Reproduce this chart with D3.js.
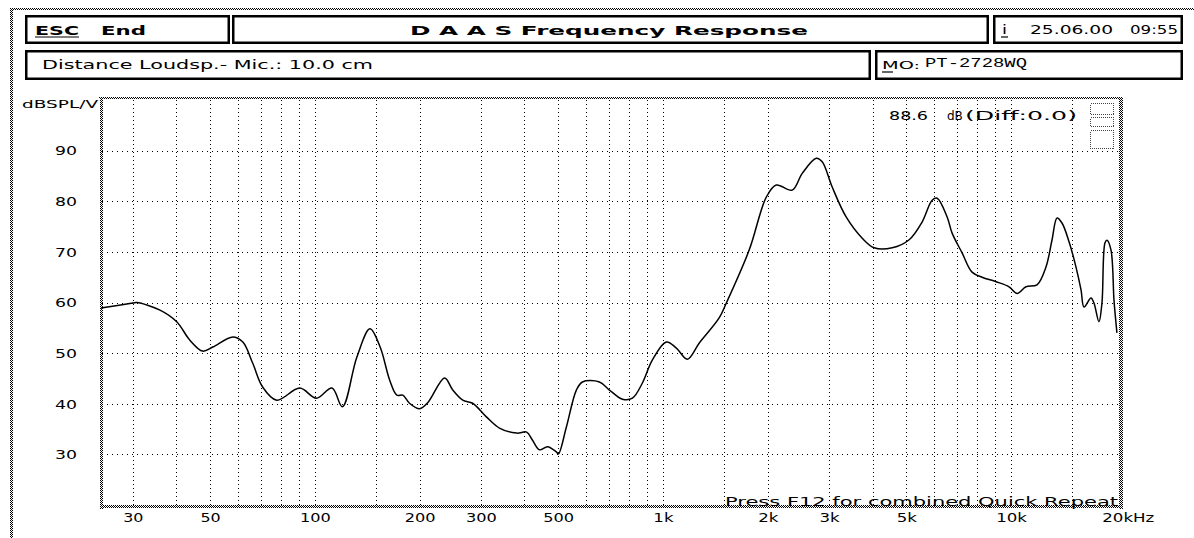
<!DOCTYPE html>
<html>
<head>
<meta charset="utf-8">
<script src="https://cdn.jsdelivr.net/npm/d3@7"></script>
<style>
  html, body { margin: 0; padding: 0; background: #fff; }
  svg { display: block; }
</style>
</head>
<body>
<svg id="chart" width="1194" height="538"></svg>
<script>
// Mesura (llegida de la imatge)
const freqs = [24.3, 30, 30.8, 35.9, 40.1, 43.7, 47.6, 50.9, 58.1, 62.1, 66.3, 70.8, 77.7, 90.5,
  101, 112, 120, 132, 144, 154, 164, 172, 179, 187, 200, 211, 236, 249, 266, 284, 311, 339,
  380, 406, 422, 442, 466, 494, 501, 528, 564, 587, 657, 702, 765, 817, 873, 932, 1023, 1093,
  1175, 1272, 1452, 1521, 1770, 1981, 2116, 2352, 2513, 2757, 2868, 3064, 3360, 3737, 4045,
  4557, 5098, 5553, 5934, 6134, 6553, 6773, 7235, 7728, 8258, 9060, 9873, 10410, 11040, 11880,
  12600, 13110, 13560, 14010, 14680, 15370, 15890, 16210, 16970, 17310, 17890, 18250, 18620,
  18870, 19370, 19760, 20020, 20150];
const levels = [58.9, 59.9, 60.0, 58.5, 56.2, 52.6, 50.4, 51.2, 53.2, 52.2, 48.0, 43.3, 40.7, 43.1,
  41.1, 43.1, 39.4, 49.2, 54.8, 51.2, 44.7, 41.7, 41.7, 40.1, 39.0, 40.2, 45.1, 42.7, 40.7, 40.1, 37.4, 35.2,
  34.2, 34.4, 32.8, 30.9, 31.5, 30.5, 30.1, 35.4, 42.7, 44.3, 44.3, 42.7, 40.9, 41.1, 44.1, 48.6, 52.2, 51.0,
  48.8, 52.0, 57.0, 59.9, 70.4, 80.8, 83.2, 82.2, 85.5, 88.5, 87.8, 82.8, 76.9, 72.7, 70.8,
  70.8, 72.4, 75.9, 80.2, 80.6, 76.9, 73.7, 69.8, 66.0, 65.0, 64.1, 63.1, 61.8, 63.1, 63.5,
  67.0, 72.3, 76.7, 75.7, 72.0, 67.0, 62.5, 59.1, 60.9, 59.9, 56.2, 59.9, 71.8,
  72.3, 70.4, 60.5, 56.0, 54.0];

const gridFreqs = [30, 40, 50, 60, 70, 80, 90, 100, 150, 200, 300, 400, 500, 600, 700, 800, 900,
  1000, 1500, 2000, 3000, 4000, 5000, 6000, 7000, 8000, 9000, 10000, 15000];
const gridLevels = [30, 40, 50, 60, 70, 80, 90];
const xTickValues = [30, 50, 100, 200, 300, 500, 1000, 2000, 3000, 5000, 10000, 20000];
const xTickLabels = ["30", "50", "100", "200", "300", "500", "1k", "2k", "3k", "5k", "10k", "20kHz"];

function drawFrequencyResponse() {
    const svg = d3.select("#chart");
    const font = "'DejaVu Sans', sans-serif";

    // Patró de quadrets per a les vores
    const defs = svg.append("defs");
    const pat = defs.append("pattern")
        .attr("id", "chk").attr("width", 2).attr("height", 2)
        .attr("patternUnits", "userSpaceOnUse");
    pat.append("rect").attr("width", 1).attr("height", 1).attr("fill", "#000");
    pat.append("rect").attr("x", 1).attr("y", 1).attr("width", 1).attr("height", 1).attr("fill", "#000");

    // Text estirat com la font de pantalla original
    function label(str, x0, y0, w, opts = {}) {
        const t = svg.append("text")
            .attr("x", x0).attr("y", y0)
            .attr("font-family", opts.family || font)
            .attr("font-size", opts.size || 12)
            .attr("font-weight", opts.bold ? "bold" : "normal")
            .attr("fill", "#000")
            .text(str);
        if (w) t.attr("textLength", w).attr("lengthAdjust", "spacingAndGlyphs");
        return t;
    }
    function underline(x1, x2, y0) {
        svg.append("line").attr("x1", x1).attr("x2", x2).attr("y1", y0).attr("y2", y0)
            .attr("stroke", "#000").attr("stroke-width", 1.2);
    }

    // Vores de la pàgina
    svg.append("rect").attr("x", 10).attr("y", 8).attr("width", 1184).attr("height", 2).attr("fill", "url(#chk)");
    svg.append("rect").attr("x", 10).attr("y", 8).attr("width", 3).attr("height", 530).attr("fill", "url(#chk)");

    // Caixes de capçalera
    const boxes = [
        [25, 15, 230, 44], [232, 15, 989, 44], [993, 15, 1183, 44],
        [25, 50, 871, 80], [875, 50, 1183, 80]
    ];
    boxes.forEach(([x1, y1, x2, y2]) => {
        svg.append("rect")
            .attr("x", x1 + 1.25).attr("y", y1 + 1.25)
            .attr("width", x2 - x1 - 2.5).attr("height", y2 - y1 - 2.5)
            .attr("fill", "none").attr("stroke", "#000").attr("stroke-width", 2.5);
    });

    label("ESC", 35, 35, 44, { bold: true, size: 13 });
    underline(35, 79, 37);
    label("End", 101, 35, 45, { bold: true, size: 13 });
    label("D A A S  Frequency Response", 410, 35, 398, { bold: true, size: 13 });
    label("i", 1002, 34, 5);
    underline(1001, 1008, 37);
    label("25.06.00", 1030, 34, 83);
    label("09:55", 1130, 34, 48);
    label("Distance Loudsp.- Mic.: 10.0 cm", 42, 69, 331);
    label("MO:", 882, 69, 38, { size: 11 });
    underline(882, 893, 72);
    label("PT-2728WQ", 925, 67, 102, { family: "'Liberation Mono', monospace", size: 13 });

    // Escales
    const x = d3.scaleLog().domain([24.3, 20700]).range([101, 1121]);
    const y = d3.scaleLinear().domain([20, 100]).range([505, 100]);

    // Graella vertical
    svg.append("g")
        .attr("transform", "translate(0,505)")
        .call(d3.axisBottom(x).tickValues(gridFreqs).tickSize(-406).tickFormat(""))
        .call(g => g.select(".domain").remove())
        .selectAll("line")
        .attr("stroke", "#000").attr("stroke-dasharray", "1,3")
        .attr("shape-rendering", "crispEdges");

    // Graella horitzontal
    svg.append("g")
        .attr("transform", "translate(102,0)")
        .call(d3.axisRight(y).tickValues(gridLevels).tickSize(1017).tickFormat(""))
        .call(g => g.select(".domain").remove())
        .selectAll("line")
        .attr("stroke", "#000").attr("stroke-dasharray", "1,4")
        .attr("shape-rendering", "crispEdges");

    // Etiquetes eix X
    const xAxis = svg.append("g")
        .attr("transform", "translate(0,505)")
        .call(d3.axisBottom(x).tickValues(xTickValues).tickSize(0).tickPadding(8)
            .tickFormat((d, i) => xTickLabels[i]));
    xAxis.select(".domain").remove();
    xAxis.selectAll("text")
        .attr("font-family", font).attr("font-size", 12).attr("fill", "#000")
        .attr("dy", "0.71em")
        .attr("lengthAdjust", "spacingAndGlyphs")
        .attr("textLength", (d, i) => xTickLabels[i].length * 10.6 - 1)
        .attr("dx", (d, i) => xTickLabels[i].endsWith("Hz") ? 12 : 0);

    // Etiquetes eix Y
    const yAxis = svg.append("g")
        .attr("transform", "translate(101,0)")
        .call(d3.axisLeft(y).tickValues(gridLevels).tickSize(0).tickPadding(24));
    yAxis.select(".domain").remove();
    yAxis.selectAll("text")
        .attr("font-family", font).attr("font-size", 12).attr("fill", "#000")
        .attr("dy", "0.36em")
        .attr("lengthAdjust", "spacingAndGlyphs")
        .attr("textLength", 22);

    label("dBSPL/V", 22, 108, 76, { size: 11 });

    // Corba de resposta
    const line = d3.line()
        .x((d, i) => x(freqs[i]))
        .y(d => y(d))
        .curve(d3.curveCatmullRom.alpha(0.5));
    svg.append("path")
        .datum(levels)
        .attr("d", line)
        .attr("fill", "none")
        .attr("stroke", "#000")
        .attr("stroke-width", 1.5)
        .attr("stroke-linejoin", "round");

    // Vores de l'àrea del gràfic
    svg.append("rect").attr("x", 99).attr("y", 97).attr("width", 1024).attr("height", 2).attr("fill", "url(#chk)");
    svg.append("rect").attr("x", 100).attr("y", 97).attr("width", 3).attr("height", 412).attr("fill", "url(#chk)");
    svg.append("rect").attr("x", 1119).attr("y", 97).attr("width", 4).attr("height", 412).attr("fill", "url(#chk)");
    svg.append("rect").attr("x", 100).attr("y", 505).attr("width", 1023).attr("height", 3).attr("fill", "url(#chk)");

    // Lectura del màxim
    label("88.6", 889, 120, 39);
    label("dB", 947, 120, null, { size: 12 });
    label("(Diff:0.0)", 965, 120, 112);

    // Icona puntejada
    [[1090, 103, 23, 11], [1090, 117, 23, 9], [1090, 130, 23, 18]].forEach(([rx, ry, rw, rh]) => {
        svg.append("rect").attr("x", rx + 0.5).attr("y", ry + 0.5).attr("width", rw).attr("height", rh)
            .attr("fill", "none").attr("stroke", "#444").attr("stroke-dasharray", "1,1")
            .attr("shape-rendering", "crispEdges");
    });

    label("Press F12 for combined Quick Repeat", 725, 506, 393);
}

drawFrequencyResponse();
</script>
</body>
</html>
